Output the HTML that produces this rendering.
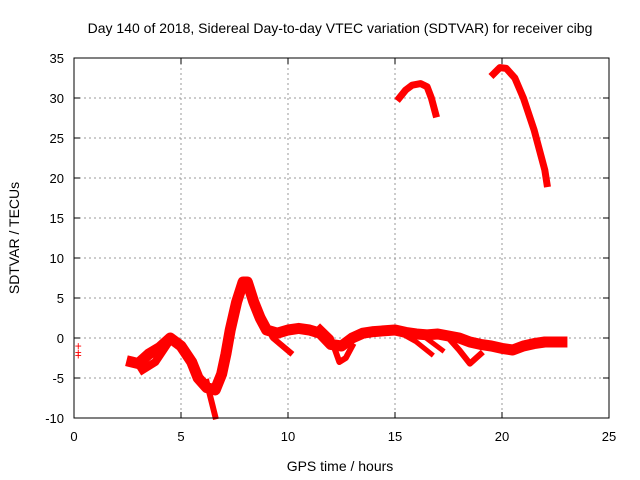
<!DOCTYPE html>
<html><head><meta charset="utf-8"><style>
body{margin:0;background:#fff}
svg{display:block;font-family:"Liberation Sans",sans-serif}
</style></head><body>
<svg id="chart" width="640" height="480">
<text x="340" y="33" text-anchor="middle" font-size="14">Day 140 of 2018, Sidereal Day-to-day VTEC variation (SDTVAR) for receiver cibg</text>
<text x="340" y="471" text-anchor="middle" font-size="14">GPS time / hours</text>
<text transform="translate(19,238) rotate(-90)" text-anchor="middle" font-size="14">SDTVAR / TECUs</text>
<g id="grid"></g><g id="series"></g><g id="axes"></g>
</svg>
<script>
const xTicks=[0,5,10,15,20,25];
const yTicks=[-10,-5,0,5,10,15,20,25,30,35];
const traceMain=[[2.7,-3],[3.0,-3.2],[3.5,-2],[4.0,-1.2],[4.5,0],[5.0,-1],[5.5,-3],[5.8,-5],[6.2,-6.2],[6.6,-6.5],[6.9,-4.5],[7.1,-2],[7.3,1],[7.6,4.5],[7.9,7],[8.1,7],[8.4,4.5],[8.7,2.5],[9.0,1],[9.5,0.6],[10,1],[10.5,1.2],[11,1],[11.5,0.6],[12,-0.8],[12.5,-1],[13,0],[13.5,0.6],[14,0.8],[15,1],[15.5,0.7],[16,0.5],[16.5,0.4],[17,0.5],[18,0],[18.5,-0.5],[19,-0.8],[19.5,-1],[20,-1.3],[20.5,-1.5],[21,-1],[21.5,-0.7],[22,-0.5],[22.8,-0.5]];
const traceB=[[8.7,3],[9.3,0],[10.1,-1.8]];
const traceC=[[11.5,1.3],[12,0],[12.4,-3],[12.7,-2.5],[13,-1]];
const traceD=[[15,1],[16,-0.5],[16.7,-2]];
const traceE=[[16.2,0.5],[17.2,-1.5]];
const traceF=[[17.5,0],[18,-1.5],[18.5,-3.2],[19,-2]];
const traceG=[[6.2,-5.5],[6.6,-9.8]];
const traceH=[[3.2,-4],[3.8,-3],[4.3,-1]];
const arc1=[[15.2,30],[15.5,31],[15.8,31.6],[16.2,31.8],[16.5,31.4],[16.7,30],[16.9,28]];
const arc2=[[19.6,33],[19.9,33.8],[20.2,33.7],[20.6,32.5],[21,30],[21.5,26],[22,21],[22.1,19.3]];
const dots=[[0.2,-1],[0.2,-1.8],[0.2,-2.2]];
const traces=[traceMain,traceB,traceC,traceD,traceE,traceF,traceG,traceH,arc1,arc2];
const widths=[11,6,6,5,5,6,6,8,7,7];
const X=h=>74+h*21.4, Y=v=>338-v*8;
const NS="http://www.w3.org/2000/svg";
const grid=document.getElementById('grid'),ser=document.getElementById('series'),ax=document.getElementById('axes');
function mk(t,a,p){const e=document.createElementNS(NS,t);for(const k in a)e.setAttribute(k,a[k]);p.appendChild(e);return e;}
xTicks.forEach(t=>{
 if(t>0&&t<25){const g=mk('line',{x1:X(t),x2:X(t),y1:58,y2:418,stroke:'#999','stroke-dasharray':'2,3'},grid);
 
 }
 const tx=mk('text',{x:X(t),y:441,'text-anchor':'middle','font-size':13},ax);tx.textContent=t;
 
 
 mk('line',{x1:X(t),x2:X(t),y1:418,y2:412,stroke:'#000'},ax);
 mk('line',{x1:X(t),x2:X(t),y1:58,y2:64,stroke:'#000'},ax);
});
yTicks.forEach(t=>{
 if(t>-10&&t<35){const g=mk('line',{x1:74,x2:609,y1:Y(t),y2:Y(t),stroke:'#999','stroke-dasharray':'2,3'},grid);
 
 }
 const tx=mk('text',{x:64,y:Y(t)+5,'text-anchor':'end','font-size':13},ax);tx.textContent=t;
 
 
 mk('line',{x1:74,x2:80,y1:Y(t),y2:Y(t),stroke:'#000'},ax);
 mk('line',{x1:603,x2:609,y1:Y(t),y2:Y(t),stroke:'#000'},ax);
});
const fr=mk('rect',{x:74,y:58,width:535,height:360,fill:'none',stroke:'#000'},ax);


traces.forEach((tr,i)=>{
 const p=mk('polyline',{points:tr.map(d=>X(d[0])+','+Y(d[1])).join(' '),fill:'none',stroke:'#f00','stroke-width':widths[i],'stroke-linejoin':'round','stroke-linecap':'square'},ser);
 
 
});
dots.forEach(d=>{
 const t=mk('text',{x:X(d[0]),y:Y(d[1])+4,'text-anchor':'middle','font-size':12,fill:'#f00'},ser);t.textContent='+';
 
 
});
</script>
</body></html>
